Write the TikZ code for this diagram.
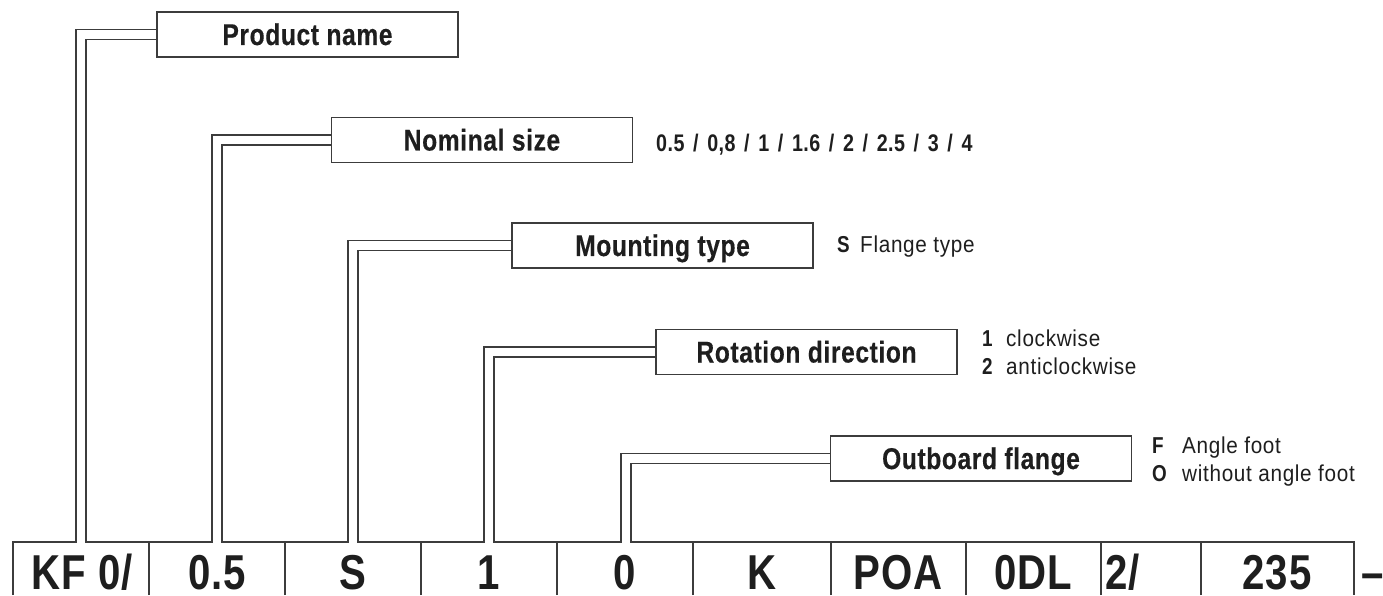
\documentclass[tikz,border=0pt]{standalone}
\usepackage{fontspec}
\usetikzlibrary{calc}
\newfontfamily\cf{Liberation Sans}[FakeStretch=0.82,LetterSpace=2]
\newfontfamily\cfx{Liberation Sans}[FakeStretch=0.82,LetterSpace=2,BoldFeatures={FakeBold=0.4}]
\newfontfamily\cfr{Liberation Sans}[FakeStretch=0.9,LetterSpace=3]
\newcommand\widesp{\spaceskip=0.36em\relax}
\definecolor{linec}{HTML}{3C3C3C}
\definecolor{txt}{HTML}{1E1E1E}
\tikzset{
  ln/.style={draw=linec, line width=1.1pt},
  lbox/.style={draw=linec, line width=1.1pt, fill=white, minimum width=301pt, minimum height=45pt,
    inner sep=0pt, font=\cfx\bfseries\fontsize{30}{30}\selectfont, text=txt, text height=21pt, text depth=0pt},
  celltxt/.style={anchor=base, inner sep=0pt, font=\cf\bfseries\fontsize{49}{49}\selectfont, text=txt, text depth=0pt},
  side/.style={anchor=base west, inner sep=0pt, font=\cfr\fontsize{23}{23}\selectfont, text=txt},
  sideb/.style={anchor=base west, inner sep=0pt, font=\cf\bfseries\fontsize{23}{23}\selectfont, text=txt},
}
\begin{document}
\begin{tikzpicture}[x=1pt,y=1pt]
\useasboundingbox (0,0) rectangle (1383,595);
\fill[white] (0,0) rectangle (1383,595);
% label boxes
\node[lbox] (b1) at (307.5,560.5) {Product name};
\node[lbox] (b2) at (482,455) {Nominal size};
\node[lbox] (b3) at (662.5,349.5) {Mounting type};
\node[lbox] (b4) at (806.5,243) {Rotation direction};
\node[lbox] (b5) at (981,136.5) {Outboard flange};
% bar corners
\coordinate (bl) at (13,0);
\coordinate (br) at (1354,0);
% leaders and bar top
\draw[ln] (bl) -- (13,53) -- (76,53) |- ($(b1.west)+(0,5)$);
\draw[ln] ($(b1.west)+(0,-5)$) -| (86,53) -- (212,53) |- ($(b2.west)+(0,5)$);
\draw[ln] ($(b2.west)+(0,-5)$) -| (222,53) -- (348,53) |- ($(b3.west)+(0,5)$);
\draw[ln] ($(b3.west)+(0,-5)$) -| (358,53) -- (484,53) |- ($(b4.west)+(0,5)$);
\draw[ln] ($(b4.west)+(0,-5)$) -| (494,53) -- (621,53) |- ($(b5.west)+(0,5)$);
\draw[ln] ($(b5.west)+(0,-5)$) -| (631,53) -- (1354,53) -- (br);
% cell separators
\foreach \x in {149,285,421,557,693,831,966,1101,1201}
  \draw[ln] (\x,0) -- (\x,53);
% bar texts
\node[celltxt] (t1) at (82,6) {KF 0/};
\node[celltxt] (t2) at (217,6) {0.5};
\node[celltxt] (t3) at (353,6) {S};
\node[celltxt] (t4) at (489,6) {1};
\node[celltxt] (t5) at (625,6) {0};
\node[celltxt] (t6) at (762,6) {K};
\node[celltxt] (t7) at (898,6) {POA};
\node[celltxt] (t8) at (1033,6) {0DL};
\node[celltxt, anchor=base west] (t9) at (1105,6) {2/};
\node[celltxt] (t10) at (1277,6) {235};
\node[celltxt, anchor=base west] (t11) at (1361,6) {–};
% side texts
\node[sideb, font=\cf\bfseries\fontsize{24}{24}\selectfont] (v2) at (656,443) {\widesp 0.5 / 0,8 / 1 / 1.6 / 2 / 2.5 / 3 / 4};
\node[sideb] (k3) at (837,342) {S};
\node[side] (s3) at (860,342) {Flange type};
\node[sideb] (k4a) at (982,249) {1};
\node[side] (s4a) at (1006,249) {clockwise};
\node[sideb] (k4b) at (982,221) {2};
\node[side] (s4b) at (1006,221) {anticlockwise};
\node[sideb] (k5a) at (1152,142) {F};
\node[side] (s5a) at (1182,142) {Angle foot};
\node[sideb] (k5b) at (1152,114) {O};
\node[side] (s5b) at (1182,114) {without angle foot};
\end{tikzpicture}
\end{document}
